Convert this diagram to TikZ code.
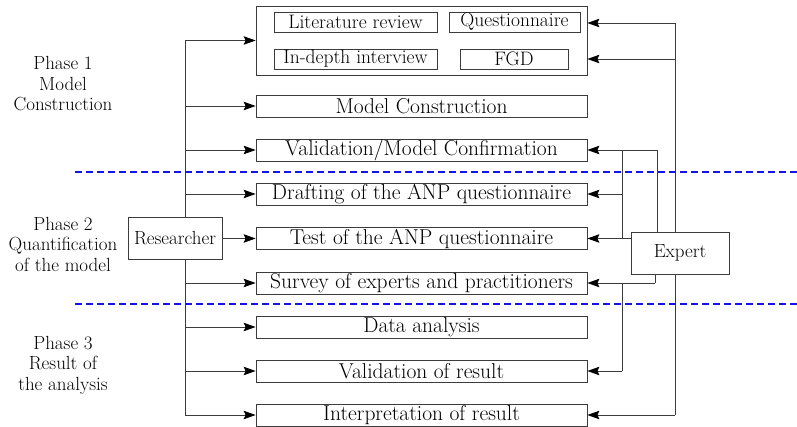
\documentclass[tikz,border=0pt]{standalone}
\usetikzlibrary{arrows.meta}
\definecolor{ln}{RGB}{60,60,60}
\definecolor{dsh}{RGB}{20,20,230}
\tikzset{
 box/.style={draw=ln, line width=0.8pt, fill=white, text=black, inner sep=0pt, minimum width=331pt, minimum height=22pt, font=\fontsize{21.5}{22}\selectfont},
 ibox/.style={draw=ln, line width=0.8pt, text=black, inner sep=0pt, minimum height=20pt, font=\fontsize{19.5}{20}\selectfont},
 actor/.style={draw=ln, line width=0.8pt, fill=white, text=black, inner sep=0pt, minimum height=42pt, font=\fontsize{19}{20}\selectfont},
 conn/.style={draw=ln, line width=0.8pt},
 arr/.style={conn, -{Stealth[length=12pt,width=8.5pt,inset=2pt,color=black]}},
 phase/.style={align=center, text=black, font=\fontsize{19}{20.5}\selectfont},
 sep/.style={draw=dsh, line width=1.2pt, dash pattern=on 7pt off 4pt}
}
\begin{document}
\begin{tikzpicture}[x=1pt,y=-1pt]
\useasboundingbox (0,0) rectangle (797,427);
% boxes
\node[draw=ln, line width=0.8pt, inner sep=0pt, minimum width=331pt, minimum height=69pt] (outer) at (421.5,40.5) {};
\node[ibox, minimum width=163pt] (lit) at (355.5,22) {Literature review};
\node[ibox, minimum width=131pt] (quest) at (514.5,22) {Questionnaire};
\node[ibox, minimum width=163pt] (indepth) at (355.5,59) {In-depth interview};
\node[ibox, minimum width=108pt] (fgd) at (514,59) {FGD};
\node[box] (mc) at (421.5,106) {Model Construction};
\node[box] (val) at (421.5,150) {Validation/Model Confirmation};
\node[box] (draft) at (421.5,194) {Drafting of the ANP questionnaire};
\node[box] (test) at (421.5,238.5) {Test of the ANP questionnaire};
\node[box] (survey) at (421.5,283) {Survey of experts and practitioners};
\node[box] (data) at (421.5,327) {Data analysis};
\node[box] (valres) at (421.5,371) {Validation of result};
\node[box] (interp) at (421.5,415) {Interpretation of result};
% phase labels
\node[phase] (p1) at (63,84) {Phase 1\\Model\\Construction};
\node[phase] (p2) at (63,244) {Phase 2\\Quantification\\of the model};
\node[phase] (p3) at (63,365) {Phase 3\\Result of\\the analysis};
% left connectors
\coordinate (L1) at (185,40.5);
\coordinate (L9) at (185,415);
\draw[conn] (L1) -- (L9);
\draw[arr] (L1) -- (outer.west);
\foreach \n in {mc,val,draft,survey,data,valres,interp}
  \draw[arr] (L1 |- \n.west) -- (\n.west);
% right connectors
\node[actor, minimum width=98pt] (expert) at (680,253) {Expert};
\coordinate (R1) at (675,23);
\coordinate (R2) at (675,59);
\coordinate (R9) at (675,415);
\draw[conn] (R1) -- (R1 |- expert.north);
\draw[arr] (R1) -- (R1 -| outer.east);
\draw[arr] (R2) -- (R2 -| outer.east);
\draw[conn] (R1 |- expert.south) -- (R9);
\draw[arr] (R9) -- (interp.east);
\coordinate (V1) at (657,150);
\draw[conn] (V1 |- expert.north) -- (V1);
\draw[arr] (V1) -- (val.east);
\coordinate (W1) at (622,150);
\draw[conn] (W1) -- (W1 |- test.east);
\draw[arr] (W1 |- draft.east) -- (draft.east);
\draw[arr] (expert.west |- test.east) -- (test.east);
\coordinate (S1) at (655,283);
\draw[conn] (S1 |- expert.south) -- (S1);
\draw[arr] (S1) -- (survey.east);
\coordinate (W2) at (622,283);
\coordinate (W3) at (622,371);
\draw[conn] (W2) -- (W3);
\draw[arr] (W3) -- (valres.east);
% separators
\draw[sep] (75,172) -- (797,172);
\draw[sep] (75,304) -- (797,304);
% actors on top
\node[actor, minimum width=94pt] (res) at (175,238.5) {Researcher};
\node[actor, minimum width=98pt] at (expert) {Expert};
\draw[arr] (res.east) -- (test.west);
\end{tikzpicture}
\end{document}
